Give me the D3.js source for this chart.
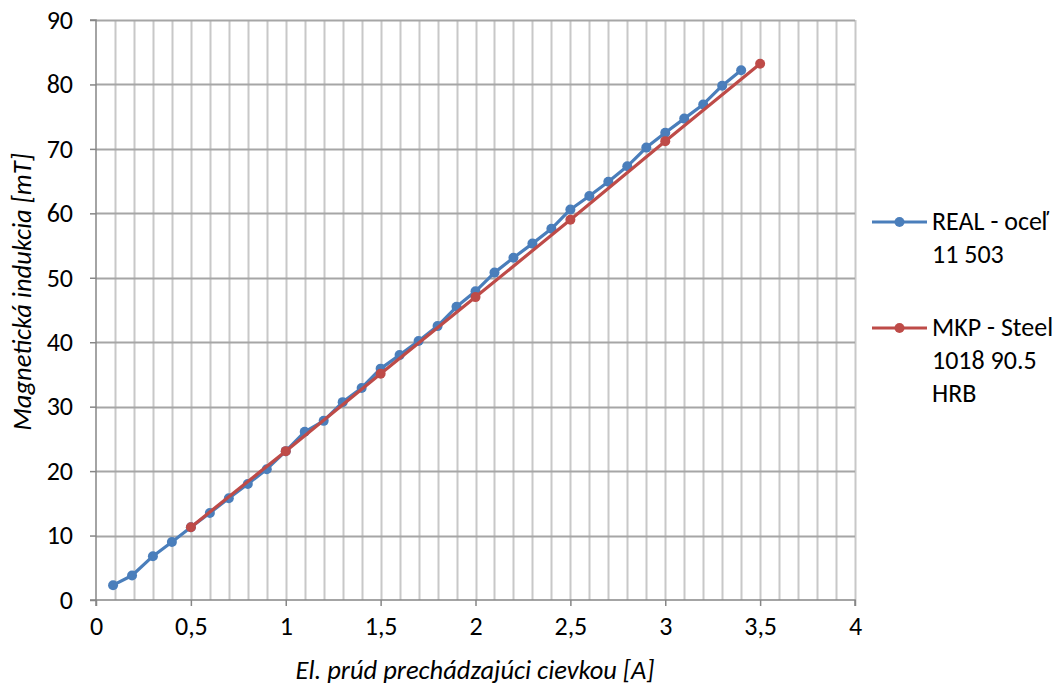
<!DOCTYPE html>
<html><head><meta charset="utf-8">
<script src="https://cdn.jsdelivr.net/npm/d3@7"></script>
<style>body{margin:0;background:#fff}svg{font-family:Carlito,Calibri,"Open Sans",sans-serif}</style>
</head><body>
<svg id="c" width="1061" height="690"></svg>
<script>
const realX = [0.09,0.19,0.3,0.4,0.5,0.6,0.7,0.8,0.9,1.0,1.1,1.2,1.3,1.4,1.5,1.6,1.7,1.8,1.9,2.0,2.1,2.2,2.3,2.4,2.5,2.6,2.7,2.8,2.9,3.0,3.1,3.2,3.3,3.4];
const realY = [2.3,3.8,6.8,9.0,11.3,13.5,15.8,18.0,20.3,23.1,26.1,27.8,30.7,32.9,35.9,38.0,40.2,42.5,45.5,47.9,50.8,53.1,55.3,57.6,60.6,62.7,64.9,67.3,70.2,72.5,74.7,76.9,79.8,82.2];
const mkpX = [0.5,1.0,1.5,2.0,2.5,3.0,3.5];
const mkpY = [11.3,23.1,35.1,47.0,59.0,71.2,83.2];
const xTicks = [0,0.5,1,1.5,2,2.5,3,3.5,4];
const yTicks = [0,10,20,30,40,50,60,70,80,90];
const seriesNames = [["REAL - oceľ","11 503"],["MKP - Steel","1018 90.5","HRB"]];
const colors = ["#4a7ebb","#be4b48"];

const svg = d3.select("#c");
const L=96,R=855,T=20,B=600;
const FS=26, TFS=26.5;
const x = d3.scaleLinear().domain([0,4]).range([L,R]);
const y = d3.scaleLinear().domain([0,90]).range([B,T]);

// vertical minor grid
const vg = d3.range(1,41).map(i=>i/10);
svg.append("g").selectAll("line").data(vg).join("line")
  .attr("x1",d=>Math.round(x(d))+0.5).attr("x2",d=>Math.round(x(d))+0.5)
  .attr("y1",T).attr("y2",B).attr("stroke","#c8c8c8").attr("stroke-width",2);
// horizontal grid
svg.append("g").selectAll("line").data(yTicks.slice(1)).join("line")
  .attr("x1",L).attr("x2",R)
  .attr("y1",d=>Math.round(y(d))+0.5).attr("y2",d=>Math.round(y(d))+0.5)
  .attr("stroke","#a6a6a6").attr("stroke-width",2);

// axes
const xAxis = d3.axisBottom(x).tickValues(xTicks).tickSize(6).tickPadding(11)
  .tickFormat(d=>String(d).replace(".",","));
const gx = svg.append("g").attr("transform",`translate(0,${B})`).call(xAxis);
const yAxis = d3.axisLeft(y).tickValues(yTicks).tickSize(6).tickPadding(17);
const gy = svg.append("g").attr("transform",`translate(${L},0)`).call(yAxis);
[gx,gy].forEach(g=>{
  g.select(".domain").attr("stroke","#868686").attr("stroke-width",1.5);
  g.selectAll(".tick line").attr("stroke","#868686").attr("stroke-width",1.5);
  g.selectAll("text").attr("font-size",FS).attr("fill","#000").attr("font-family",'Carlito,Calibri,"Open Sans",sans-serif');
});
gy.select(".domain").attr("d",`M-6,${T}H0V${B}H-6`);
gx.select(".domain").attr("d",`M${L},6V0H${R}V6`);

// titles
svg.append("text").attr("x",475).attr("y",679).attr("text-anchor","middle")
  .attr("font-size",TFS).attr("font-style","italic").text("El. prúd prechádzajúci cievkou [A]");
svg.append("text").attr("transform",`translate(31,292) rotate(-90)`).attr("text-anchor","middle")
  .attr("font-size",TFS).attr("font-style","italic").text("Magnetická indukcia [mT]");

// series
const line = d3.line().x(d=>x(d[0])).y(d=>y(d[1]));
const realData = realX.map((v,i)=>[v,realY[i]]);
const mkpData = mkpX.map((v,i)=>[v,mkpY[i]]);
[realData,mkpData].forEach((data,si)=>{
  svg.append("path").datum(data).attr("d",line).attr("fill","none")
    .attr("stroke",colors[si]).attr("stroke-width",3.2).attr("stroke-linejoin","round");
  svg.append("g").selectAll("circle").data(data).join("circle")
    .attr("cx",d=>x(d[0])).attr("cy",d=>y(d[1])).attr("r",5).attr("fill",colors[si]);
});

// legend
const legY=[222,328];
seriesNames.forEach((names,si)=>{
  const g = svg.append("g");
  g.append("line").attr("x1",872).attr("x2",927).attr("y1",legY[si]).attr("y2",legY[si])
    .attr("stroke",colors[si]).attr("stroke-width",3.2);
  g.append("circle").attr("cx",899.5).attr("cy",legY[si]).attr("r",5).attr("fill",colors[si]);
  names.forEach((t,j)=>{
    g.append("text").attr("x",932).attr("y",legY[si]+8+j*33).attr("font-size",FS).attr("fill","#000").text(t);
  });
});
</script>
</body></html>
